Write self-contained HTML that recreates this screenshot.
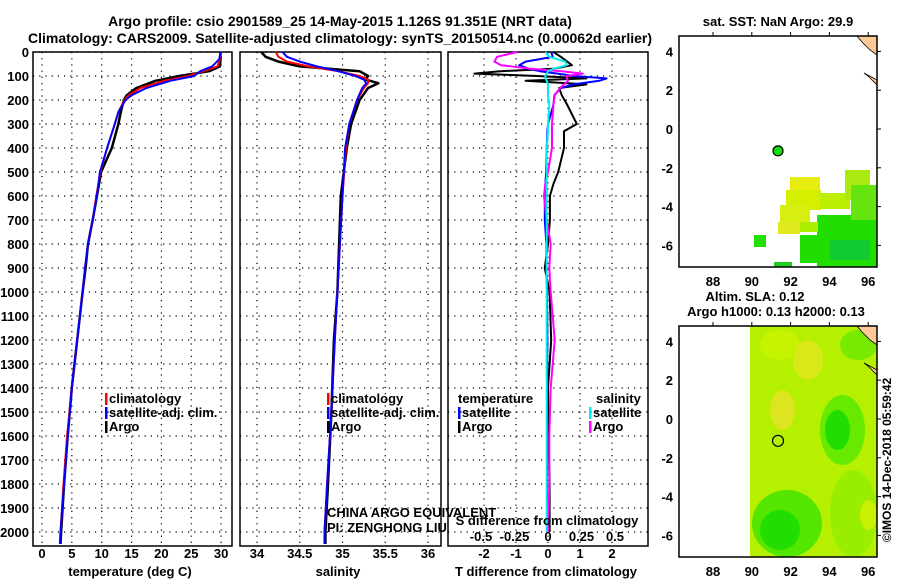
<!DOCTYPE html>
<html><head><meta charset="utf-8">
<style>
body{margin:0;background:#fff;}
svg{display:block;font-family:"Liberation Sans",sans-serif;}
.b{font-weight:bold;font-size:13px;}
.t{font-weight:bold;font-size:14px;}
</style></head>
<body>
<svg id="c" width="900" height="580" viewBox="0 0 900 580">
<text class="t" x="340" y="26" text-anchor="middle">Argo profile: csio 2901589_25 14-May-2015 1.126S 91.351E (NRT data)</text>
<text class="t" x="340" y="43" text-anchor="middle">Climatology: CARS2009. Satellite-adjusted climatology: synTS_20150514.nc (0.00062d earlier)</text>
<g id="g"></g>
<text x="891" y="460" transform="rotate(-90 891 460)" text-anchor="middle" font-size="12" font-weight="bold">©IMOS 14-Dec-2018 05:59:42</text>
</svg>
<script>
// depth axis
const depthTicks=[0,100,200,300,400,500,600,700,800,900,1000,1100,1200,1300,1400,1500,1600,1700,1800,1900,2000];
// temperature panel
const tempTicks=[0,5,10,15,20,25,30];
const tDepth=[0,30,60,80,100,120,150,180,200,250,300,400,500,600,700,800,900,1000,1200,1400,1600,1800,2000,2050];
const tClim=[29.9,29.8,29.4,27,24.5,20.5,16.5,14.5,13.8,12.8,12.2,10.9,9.8,9.1,8.5,7.7,7.2,6.8,5.9,5.0,4.2,3.6,3.1,3.0];
const tSat=[29.9,29.7,28.5,26.5,25.5,21.5,17.5,15,14,12.8,12.2,10.9,9.7,9.2,8.5,7.7,7.2,6.8,5.9,5.0,4.3,3.7,3.1,3.0];
const tArgo=[29.9,29.9,29.8,28,23,19,15.8,14.2,13.7,13.2,12.8,11.7,9.9,9.2,8.5,7.7,7.3,6.8,5.9,5.0,4.3,3.7,3.2,3.1];
// salinity panel
const salTicks=[34,34.5,35,35.5,36];
const sDepth=[0,20,40,60,80,100,115,130,150,200,300,400,600,800,1000,1200,1500,1800,2000,2050];
const sClim=[34.22,34.25,34.35,34.6,34.95,35.2,35.3,35.3,35.25,35.17,35.08,35.04,35.0,34.97,34.94,34.91,34.87,34.82,34.79,34.79];
const sSat=[34.3,34.35,34.5,34.7,34.95,35.15,35.25,35.28,35.23,35.17,35.08,35.03,35.0,34.97,34.94,34.91,34.87,34.82,34.79,34.79];
const sArgo=[34.05,34.1,34.25,34.5,35.2,35.3,35.27,35.42,35.3,35.2,35.1,35.05,34.98,34.96,34.94,34.9,34.87,34.83,34.8,34.8];
// difference panel
const tdTicks=[-2,-1,0,1,2];
const sdTicks=[-0.5,-0.25,0,0.25,0.5];
const dDepth=[0,20,40,55,70,80,90,100,110,120,135,150,180,220,300,330,400,500,550,600,700,800,900,1000,1200,1400,1600,1800,2000];
const dTArgo=[0.17,0.4,0.6,0.75,0.17,-1.5,-2.3,-0.35,1.2,-0.7,1.2,0.35,0.43,0.6,0.9,0.5,0.5,0.32,0.17,0.06,0.06,0.0,-0.1,0.05,0.1,0.0,0.02,0.05,0.05];
const dTSat=[0.1,0.15,-0.7,-0.9,-0.6,-0.25,0.3,0.8,1.83,1.6,0.8,0.4,0.2,0.17,0.0,-0.02,-0.04,-0.06,-0.08,-0.1,-0.1,-0.05,-0.05,-0.03,-0.02,-0.03,-0.03,-0.03,-0.03];
const dSArgo=[-0.23,-0.38,-0.4,-0.35,-0.13,0.1,0.26,0.14,0.14,0.15,0.12,0.09,0.05,0.04,0.03,0.03,0.03,0.0,-0.02,-0.03,-0.01,0.02,0.01,0.02,0.05,0.02,0.01,0.01,0.0];
const dSSat=[-0.02,0.01,0.13,0.14,0.04,0.0,-0.01,-0.02,-0.02,-0.01,0.0,0.0,0.0,0.01,0.0,0.0,-0.01,-0.01,-0.01,-0.01,-0.01,-0.01,-0.01,-0.01,-0.01,-0.01,-0.01,-0.01,-0.01];
// map data
const latTicks=[4,2,0,-2,-4,-6];
const lonTicks=[88,90,92,94,96];
const argoLon=91.351, argoLat=-1.126;

const NS="http://www.w3.org/2000/svg";
const G=document.getElementById('g');
function el(tag,at,txt){const e=document.createElementNS(NS,tag);for(const k in at)e.setAttribute(k,at[k]);if(txt!==undefined)e.textContent=txt;G.appendChild(e);return e;}
const pTop=52,pBot=546;
const yD=d=>pTop+d*0.24;

function panel(name,x0,x1,xs,ticks,fmt){
  const r=el('rect',{x:x0,y:pTop,width:x1-x0,height:pBot-pTop,fill:'none',stroke:'#000','stroke-width':1.5});
  
  
  depthTicks.forEach(d=>{const l=el('line',{x1:x0,x2:x1,y1:yD(d),y2:yD(d),stroke:'#000','stroke-dasharray':'1.2 5','stroke-width':1.2});
    });
  ticks.forEach(v=>{const x=xs(v);const l=el('line',{x1:x,x2:x,y1:pTop,y2:pBot,stroke:'#000','stroke-dasharray':'1.2 5','stroke-width':1.2});
    
    if(fmt){const t=el('text',{x:x,y:558,'text-anchor':'middle',class:'b'},fmt(v));
    }});
}
function line(name,xs,vals,deps,col,w){
  const d=vals.map((v,i)=>(i?'L':'M')+xs(v).toFixed(1)+' '+yD(deps[i]).toFixed(1)).join(' ');
  const p=el('path',{d:d,fill:'none',stroke:col,'stroke-width':w,'stroke-linejoin':'round'});
  
}
function txt(name,x,y,s,at){const t=el('text',Object.assign({x:x,y:y,class:'b'},at||{}),s);
  return t;}
function legItem(name,x,y,col,s){const r=el('rect',{x:x,y:y-10,width:2.5,height:12,fill:col});
  
  txt(name,x+4,y,s,{'font-size':'12px'});}

// depth labels
depthTicks.forEach(d=>txt('depth-tick-label',29,yD(d)+5,String(d),{'text-anchor':'end'}));

// panel 1
const xT=v=>42+v*5.97;
panel('temperature-panel',33,232,xT,tempTicks,v=>String(v));
line('temp-argo',xT,tArgo,tDepth,'#000',2.5);
line('temp-climatology',xT,tClim,tDepth,'#f00',2);
line('temp-satellite-adj',xT,tSat,tDepth,'#00f',2);
txt('temperature-axis-title',130,576,'temperature (deg C)',{'text-anchor':'middle'});
legItem('legend-climatology',105,403,'#f00','climatology');
legItem('legend-satellite-adj',105,417,'#00f','satellite-adj. clim.');
legItem('legend-argo',105,431,'#000','Argo');

// panel 2
const xS=v=>257+(v-34)*85.5;
panel('salinity-panel',240,441,xS,salTicks,v=>String(v));
line('sal-argo',xS,sArgo,sDepth,'#000',2.5);
line('sal-climatology',xS,sClim,sDepth,'#f00',2);
line('sal-satellite-adj',xS,sSat,sDepth,'#00f',2);
txt('salinity-axis-title',338,576,'salinity',{'text-anchor':'middle'});
legItem('legend-climatology-2',327,403,'#f00','climatology');
legItem('legend-satellite-adj-2',327,417,'#00f','satellite-adj. clim.');
legItem('legend-argo-2',327,431,'#000','Argo');
txt('pi-note-1',327,517,'CHINA ARGO EQUIVALENT',{'font-weight':'normal','font-size':'12px'});
txt('pi-note-2',327,532,'PI: ZENGHONG LIU',{'font-weight':'normal','font-size':'12px'});

// panel 3
const xTD=v=>548+v*32;
const xSD=v=>548+v*134;
panel('difference-panel',448,648,xTD,tdTicks,v=>String(v));
sdTicks.forEach(v=>txt('s-diff-tick-label',xSD(v),541,String(v),{'text-anchor':'middle'}));
line('tdiff-argo',xTD,dTArgo,dDepth,'#000',2);
line('tdiff-satellite',xTD,dTSat,dDepth,'#00f',2);
line('sdiff-argo',xSD,dSArgo,dDepth,'#f0f',2);
line('sdiff-satellite',xSD,dSSat,dDepth,'#0ee',2);
txt('t-diff-axis-title',546,576,'T difference from climatology',{'text-anchor':'middle'});
txt('s-diff-axis-title',547,525,'S difference from climatology',{'text-anchor':'middle'});
txt('legend-temperature-head',458,403,'temperature',{'font-size':'12px'});
legItem('legend-tdiff-satellite',458,417,'#00f','satellite');
legItem('legend-tdiff-argo',458,431,'#000','Argo');
txt('legend-salinity-head',596,403,'salinity',{'font-size':'12px'});
legItem('legend-sdiff-satellite',589,417,'#0ee','satellite');
legItem('legend-sdiff-argo',589,431,'#f0f','Argo');

// maps
const mx0=679,mx1=877;
const lonX=v=>713+(v-88)*19.4;
function mapLat(lat0){return v=>lat0-v*19.4;}
function mapFrame(name,y0,y1,latY){
  const r=el('rect',{x:mx0,y:y0,width:mx1-mx0,height:y1-y0,fill:'none',stroke:'#000','stroke-width':1.5});
  
  latTicks.forEach(v=>{txt(name+'-lat-label',673,latY(v)+5,String(v),{'text-anchor':'end'});
    const t=el('line',{x1:mx1,x2:mx1+4,y1:latY(v),y2:latY(v),stroke:'#000'});});
  lonTicks.forEach(v=>{txt(name+'-lon-label',lonX(v),y1+19,String(v),{'text-anchor':'middle'});
    const t=el('line',{x1:lonX(v),x2:lonX(v),y1:y0,y2:y0-4,stroke:'#000'});});
}
function land(name,y0){
  const p=el('path',{d:`M857 ${y0} L877 ${y0} L877 ${y0+19} L870 ${y0+14} L862 ${y0+6} Z M864 ${y0+37} L877 ${y0+44} L877 ${y0+49} L868 ${y0+40} Z`,fill:'#ffc896',stroke:'#000','stroke-width':0.8});
  
}
function rect(name,x,y,w,h,c){const r=el('rect',{x:x,y:y,width:w,height:h,fill:c});}

// map 1 SST
const latY1=mapLat(129);
[[790,177,30,16,'#e6ec10'],[786,190,35,20,'#d4f000'],[780,205,30,20,'#d8ee10'],[778,222,22,12,'#e0e820'],[820,193,30,16,'#bbee00'],[845,170,25,30,'#aaea10'],[817,215,60,52,'#22dd00'],[851,185,26,35,'#66e410'],[800,235,30,28,'#22dd00'],[830,240,40,20,'#11cc33'],[754,235,12,12,'#22dd00'],[774,262,18,5,'#22cc22'],[800,222,18,10,'#aaee00']].forEach(a=>rect('sst-pixel',...a));
land('sst-map',36);
mapFrame('sst-map',36,267,latY1);
const dot1=el('circle',{cx:lonX(argoLon),cy:latY1(argoLat),r:5,fill:'#11dd11',stroke:'#000','stroke-width':1.2});

txt('sst-map-title',778,26,'sat. SST: NaN Argo: 29.9',{'text-anchor':'middle','font-size':'12px'});

// map 2 SLA
const latY2=mapLat(419);
rect('sla-field',750,326,127,231,'#b4f000');
[[760,330,40,30,'#c6f400'],[793,340,30,40,'#d8e818'],[770,390,25,40,'#dde420'],[820,395,45,70,'#66ea00'],[825,410,25,40,'#22dd00'],[752,490,70,67,'#55e600'],[760,510,40,40,'#22dd00'],[840,330,37,30,'#77ea00'],[830,470,47,87,'#99ee00'],[860,500,17,30,'#c8f000']].forEach(a=>{
  const e=el('ellipse',{cx:a[0]+a[2]/2,cy:a[1]+a[3]/2,rx:a[2]/2,ry:a[3]/2,fill:a[4]});
  });
land('sla-map',326);
mapFrame('sla-map',326,557,latY2);
const dot2=el('circle',{cx:lonX(argoLon),cy:latY2(argoLat),r:5.5,fill:'none',stroke:'#000','stroke-width':1.2});

txt('sla-map-title-1',755,301,'Altim. SLA: 0.12',{'text-anchor':'middle','font-size':'12px'});
txt('sla-map-title-2',776,316,'Argo h1000: 0.13 h2000: 0.13',{'text-anchor':'middle','font-size':'12px'});
</script>
</body></html>
